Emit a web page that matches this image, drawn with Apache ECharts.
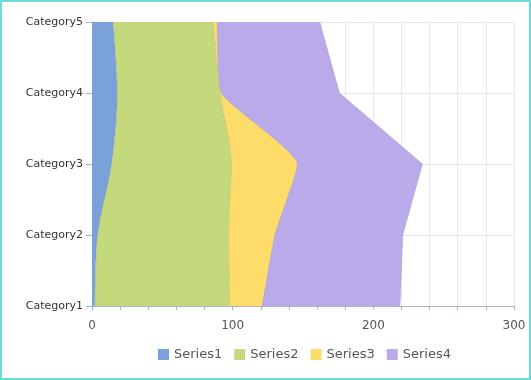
<!DOCTYPE html>
<html><head><meta charset="utf-8">
<script src="https://cdn.jsdelivr.net/npm/echarts@6/dist/echarts.min.js"></script>
<style>html,body{margin:0;padding:0;background:#fff}#c{width:527px;height:376px;border:2px solid #6ddbd6}</style>
</head><body><div id="c"></div>
<script>
var categories = ['Category1','Category2','Category3','Category4','Category5'];
var series1 = [2, 4, 14, 18, 15];
var series2 = [96, 93, 85, 73, 71];
var series3 = [23, 33, 47, 1, 3];
var series4 = [98, 91, 89, 84, 73];
var seriesNames = ['Series1','Series2','Series3','Series4'];
var colors = ['#7ba2d8','#c3d97c','#fddc6a','#bbaaea'];
var xLabels = [0, 100, 200, 300];

var chart = echarts.init(document.getElementById('c'));
function mk(name, data, color, smooth){
  return {name:name, type:'line', stack:'total', data:data, smooth:smooth,
    symbol:'none', lineStyle:{width:0.6, color:'rgba(120,120,120,0.35)'},
    itemStyle:{color:color}, areaStyle:{color:color, opacity:1}};
}
chart.setOption({
  animation:false,
  color: colors,
  grid:{left:90, right:15, top:20, bottom:72},
  legend:{bottom:12, left:151, itemWidth:11, itemHeight:11, itemGap:12, icon:'rect',
    textStyle:{fontFamily:'DejaVu Sans', fontSize:13, color:'#555'}},
  xAxis:{type:'value', min:0, max:300, interval:20,
    axisLine:{show:true, lineStyle:{color:'#aab4c4'}},
    axisTick:{show:true, length:4, lineStyle:{color:'#aab4c4'}},
    axisLabel:{fontFamily:'DejaVu Sans', fontSize:12, color:'#555', margin:14,
      formatter:function(v){return xLabels.indexOf(v)>=0 ? String(v) : '';}},
    splitLine:{show:true, lineStyle:{color:'#e6ebf3', width:1}}},
  yAxis:{type:'category', data:categories, boundaryGap:false,
    axisLine:{show:true, lineStyle:{color:'#aab4c4'}},
    axisTick:{show:true, length:6, lineStyle:{color:'#aab4c4'}},
    axisLabel:{fontFamily:'DejaVu Sans', fontSize:11, color:'#333', margin:9},
    splitLine:{show:true, lineStyle:{color:'#e2e7f0', width:1}}},
  series:[
    mk(seriesNames[0], series1, colors[0], 0.3),
    mk(seriesNames[1], series2, colors[1], 0.3),
    mk(seriesNames[2], series3, colors[2], 0.15),
    mk(seriesNames[3], series4, colors[3], false)
  ]
});
</script></body></html>
